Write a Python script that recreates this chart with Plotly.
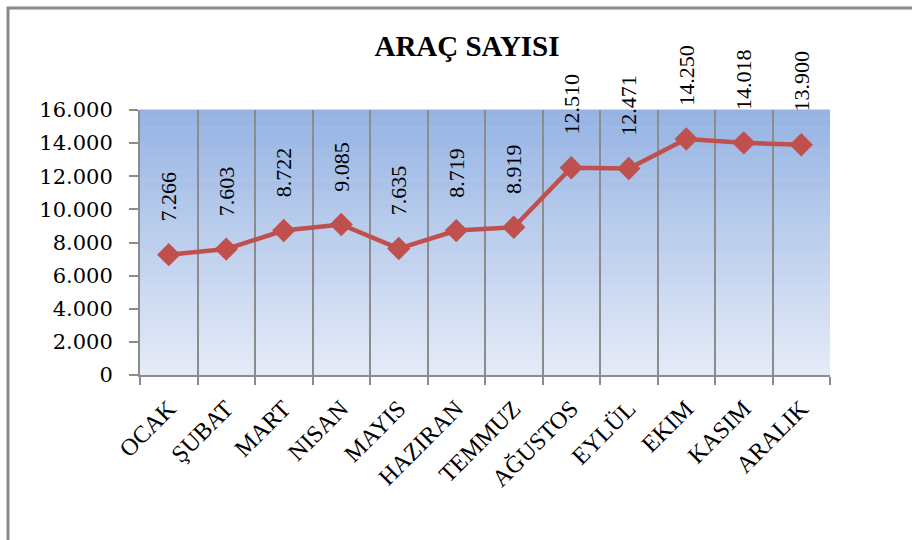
import plotly.graph_objects as go

months = ["OCAK", "ŞUBAT", "MART", "NISAN", "MAYIS", "HAZIRAN", "TEMMUZ",
          "AĞUSTOS", "EYLÜL", "EKIM", "KASIM", "ARALIK"]
vehicles = [7266, 7603, 8722, 9085, 7635, 8719, 8919, 12510, 12471, 14250, 14018, 13900]
y_ticks = [0, 2000, 4000, 6000, 8000, 10000, 12000, 14000, 16000]
y_tick_text = ["0", "2.000", "4.000", "6.000", "8.000", "10.000", "12.000", "14.000", "16.000"]

W, H = 912, 540
ML, MT = 140, 110
PW, PH = 690, 265
MR, MB = W - ML - PW, H - MT - PH

SERIF = "Liberation Serif, Times New Roman, serif"
WIDE_SERIF = "DejaVu Serif, serif"
RED = "#C0504D"
GRID = "#8c8c8c"

def fmt(v):
    return f"{v:,}".replace(",", ".")

fig = go.Figure()
fig.add_trace(go.Scatter(
    x=months, y=vehicles, mode="lines+markers",
    line=dict(color=RED, width=4.5),
    marker=dict(symbol="diamond", size=18, color=RED),
    hoverinfo="skip", showlegend=False,
))

shapes = []
top = (149, 179, 227)
bot = (229, 235, 247)
N = 60
for i in range(N):
    t = i / N
    c = tuple(int(round(bot[k] + (top[k] - bot[k]) * (t + 0.5 / N))) for k in range(3))
    shapes.append(dict(type="rect", xref="x domain", yref="y domain",
                       x0=0, x1=1, y0=t, y1=t + 1.0 / N + 0.002,
                       fillcolor=f"rgb{c}", line=dict(width=0), layer="below"))
# outer chart frame: its right and bottom edges lie outside the picture
shapes.append(dict(type="rect", xref="paper", yref="paper",
                   x0=(8 - ML) / PW, x1=(W + 40 - ML) / PW,
                   y0=-(MB + 40) / PH, y1=1 + (MT - 8) / PH,
                   line=dict(color="#8a8a8a", width=3), fillcolor="rgba(0,0,0,0)",
                   layer="above"))

annotations = []
for m, v in zip(months, vehicles):
    annotations.append(dict(x=m, y=v, xref="x", yref="y", text=fmt(v),
                            textangle=-90, showarrow=False, xanchor="center",
                            yanchor="bottom", yshift=31,
                            font=dict(family=SERIF, size=22, color="black")))

fig.update_layout(
    width=W, height=H,
    margin=dict(l=ML, r=MR, t=MT, b=MB),
    paper_bgcolor="white", plot_bgcolor="white",
    title=dict(text="<b>ARAÇ SAYISI</b>", x=467 / W, xanchor="center",
               y=1 - 46 / H, yanchor="middle", yref="container",
               font=dict(family=SERIF, size=29, color="black")),
    shapes=shapes, annotations=annotations,
    xaxis=dict(type="category", tickson="boundaries", showgrid=True,
               gridcolor=GRID, gridwidth=1.5, ticks="outside", ticklen=8,
               tickcolor=GRID, tickwidth=1.5, showline=True, linecolor=GRID,
               linewidth=2, tickangle=-45, range=[-0.5, 11.5], ticklabelstandoff=8,
               tickfont=dict(family=SERIF, size=24, color="black")),
    yaxis=dict(range=[0, 16000], tickvals=y_ticks, ticktext=y_tick_text,
               showgrid=False, zeroline=False, ticks="outside", ticklen=9,
               tickcolor=GRID, tickwidth=1.5, showline=True, linecolor=GRID,
               linewidth=2, ticklabelstandoff=12,
               tickfont=dict(family=WIDE_SERIF, size=21, color="black")),
)

fig.write_html("out.html", config={"displayModeBar": False},
               post_script="document.body.style.margin='0';document.body.style.overflow='hidden';")
